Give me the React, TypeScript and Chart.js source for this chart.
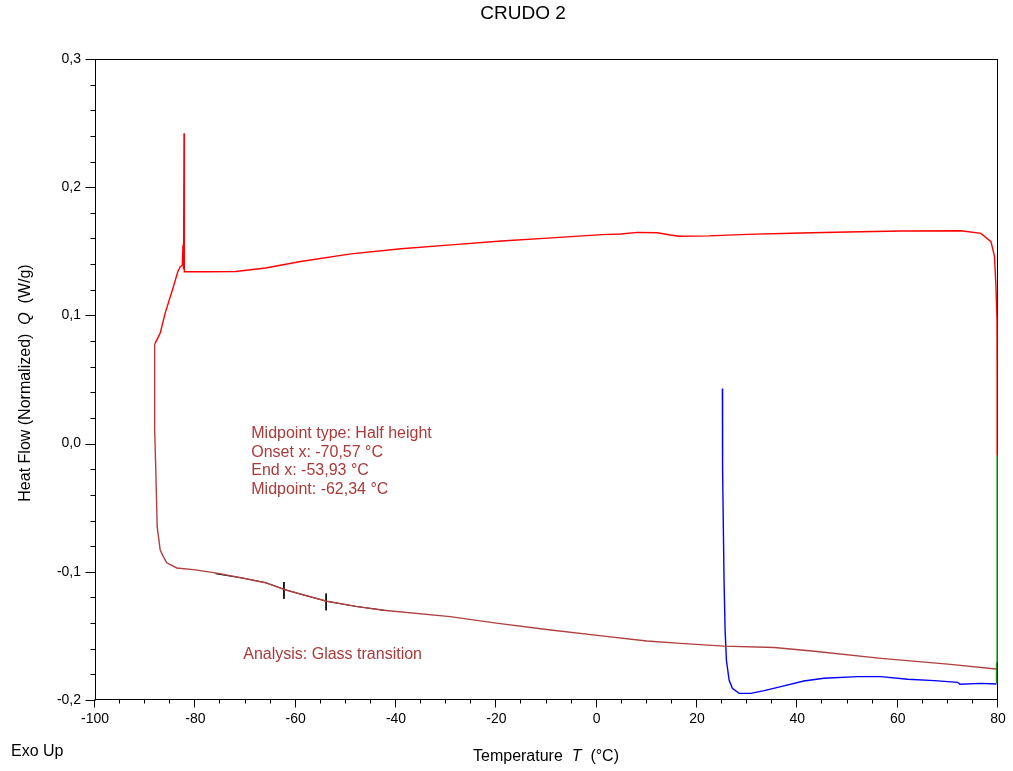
import React, { useEffect, useRef } from "react";
import { Chart, registerables } from "chart.js";

Chart.register(...registerables);

// ---- Chart text ----
const chartTitle = "CRUDO 2";
const exoLabel = "Exo Up";
const analysisLabel = "Analysis: Glass transition";
const resultLines = [
  "Midpoint type: Half height",
  "Onset x: -70,57 °C",
  "End x: -53,93 °C",
  "Midpoint: -62,34 °C",
];

// ---- Axis ranges / ticks ----
const xMin = -100;
const xMax = 80;
const xMajorStep = 20;
const xMinorStep = 5;
const yMin = -0.2;
const yMax = 0.3;
const yMajorStep = 0.1;
const yMinorStep = 0.02;

// ---- Heating segment (red), °C / W/g ----
const heatingT = [
  -88.05, -87.6, -87.0, -86.0, -84.4, -83.5, -83.0, -82.6, -82.45, -82.35, -82.25, -82.2,
  -78.0, -72.0, -66.0, -59.0, -49.0, -39.0, -29.0, -19.0, -9.0, 1.0, 4.8, 8.1, 12.1, 14.7,
  16.4, 22.4, 30.0, 40.7, 50.0, 60.6, 72.6, 76.6, 78.6, 79.3, 79.6, 79.8, 79.82, 79.82,
];
const heatingQ = [
  0.078, 0.0815, 0.0863, 0.102, 0.122, 0.134, 0.138, 0.139, 0.155, 0.136, 0.242, 0.134,
  0.134, 0.1342, 0.137, 0.142, 0.148, 0.152, 0.155, 0.158, 0.1605, 0.163, 0.1635, 0.1648,
  0.1645, 0.1627, 0.1617, 0.162, 0.1632, 0.1643, 0.165, 0.1658, 0.166, 0.164, 0.1575,
  0.146, 0.122, 0.096, 0.05, -0.009,
];

// ---- Isothermal segment at 80 °C (green) ----
const isoT = [79.82, 79.82, 79.7, 79.7];
const isoQ = [-0.009, -0.17, -0.172, -0.187];

// ---- Cooling segment (dark red) ----
const coolingT = [
  79.6, 70.0, 56.7, 43.4, 35.4, 25.4, 16.7, 10.0, 1.0, -10.0, -20.0, -29.2, -42.5, -48.0,
  -53.8, -58.0, -62.1, -66.0, -70.4, -75.7, -80.0, -83.7, -85.7, -86.4, -87.0, -87.6,
  -87.9, -88.1, -88.1,
];
const coolingQ = [
  -0.1758, -0.172, -0.1675, -0.162, -0.159, -0.158, -0.1558, -0.154, -0.15, -0.145, -0.14,
  -0.135, -0.13, -0.127, -0.123, -0.1185, -0.114, -0.1085, -0.105, -0.101, -0.0985,
  -0.097, -0.093, -0.088, -0.083, -0.065, -0.018, 0.01, 0.078,
];

// ---- Second heating segment (blue) ----
const reheatT = [
  25.06, 25.1, 25.4, 25.6, 25.86, 26.4, 27.05, 28.4, 30.7, 33.4, 36.7, 41.3, 45.3, 52.0,
  56.6, 62.0, 67.3, 71.96, 72.4, 76.6, 79.7,
];
const reheatQ = [
  0.043, -0.02, -0.109, -0.145, -0.1688, -0.1844, -0.1909, -0.1948, -0.1948, -0.1927,
  -0.1896, -0.1852, -0.183, -0.1818, -0.1818, -0.1838, -0.1849, -0.1862, -0.1877, -0.187,
  -0.1875,
];

// ---- Glass transition fit (black) ----
const fitT = [-76.0, -70.4, -66.0, -62.1, -58.0, -53.8, -48.0, -42.0];
const fitQ = [-0.1015, -0.105, -0.1085, -0.114, -0.1185, -0.123, -0.127, -0.1302];

// ---- Midpoint / end markers ----
const markerT = [-62.34, -53.93];
const markerTop = [-0.108, -0.117];
const markerBottom = [-0.121, -0.13];

// ---- Colours ----
const heatingColor = "#ff0000";
const isoColor = "#1a9a1a";
const coolingColor = "#b0403f";
const reheatColor = "#0000ff";
const fitColor = "#000000";
const noteColor = "#a83a3a";

const FONT = "Arial, 'Liberation Sans', sans-serif";

const toPoints = (xs: number[], ys: number[]) => xs.map((x, i) => ({ x, y: ys[i] }));

const fmtY = (v: number) => (Math.abs(v) < 1e-9 ? "0,0" : v.toFixed(1).replace(".", ","));

const decorations = {
  id: "dscDecorations",
  beforeDatasetsDraw(chart: any) {
    const { ctx, chartArea: a } = chart;
    ctx.save();
    ctx.strokeStyle = "#000";
    ctx.lineWidth = 1;
    ctx.strokeRect(Math.round(a.left) + 0.5, Math.round(a.top) + 0.5, Math.round(a.right - a.left) - 1, Math.round(a.bottom - a.top) - 1);
    ctx.restore();
  },
  afterDraw(chart: any) {
    const { ctx, chartArea: a, scales } = chart;
    const xs = scales.x;
    const ys = scales.y;
    ctx.save();
    ctx.strokeStyle = "#000";
    ctx.lineWidth = 1;
    // x tick marks (major + minor), outward
    const xb = Math.round(a.bottom) - 0.5;
    for (let v = xMin; v <= xMax + 1e-9; v += xMinorStep) {
      const px = Math.round(xs.getPixelForValue(v)) - 0.5;
      const major = Math.abs(v % xMajorStep) < 1e-9;
      ctx.beginPath();
      ctx.moveTo(px, xb);
      ctx.lineTo(px, xb + (major ? 8 : 4));
      ctx.stroke();
    }
    // y tick marks (major + minor), outward
    const yl = Math.round(a.left) + 0.5;
    const nY = Math.round((yMax - yMin) / yMinorStep);
    for (let i = 0; i <= nY; i++) {
      const v = yMin + i * yMinorStep;
      const py = Math.round(ys.getPixelForValue(v)) + 0.5;
      const major = i % Math.round(yMajorStep / yMinorStep) === 0;
      ctx.beginPath();
      ctx.moveTo(yl, py);
      ctx.lineTo(yl - (major ? 10 : 5), py);
      ctx.stroke();
    }

    // title
    ctx.fillStyle = "#000";
    ctx.textBaseline = "middle";
    ctx.textAlign = "center";
    ctx.font = `19px ${FONT}`;
    ctx.fillText(chartTitle, 523, 14);

    // axis title with an italic quantity symbol
    const drawMixed = (parts: { t: string; italic: boolean }[], cx: number, cy: number, size: number) => {
      const widths = parts.map((p) => {
        ctx.font = `${p.italic ? "italic " : ""}${size}px ${FONT}`;
        return ctx.measureText(p.t).width;
      });
      const total = widths.reduce((s, w) => s + w, 0);
      let x = cx - total / 2;
      ctx.textAlign = "left";
      parts.forEach((p, i) => {
        ctx.font = `${p.italic ? "italic " : ""}${size}px ${FONT}`;
        ctx.fillText(p.t, x, cy);
        x += widths[i];
      });
    };
    drawMixed(
      [
        { t: "Temperature  ", italic: false },
        { t: "T", italic: true },
        { t: "  (°C)", italic: false },
      ],
      546,
      757,
      16
    );

    // y axis title, rotated
    ctx.save();
    ctx.translate(26, 383);
    ctx.rotate(-Math.PI / 2);
    drawMixed(
      [
        { t: "Heat Flow (Normalized)  ", italic: false },
        { t: "Q", italic: true },
        { t: "  (W/g)", italic: false },
      ],
      0,
      0,
      16
    );
    ctx.restore();

    // Exo Up
    ctx.textAlign = "left";
    ctx.font = `16px ${FONT}`;
    ctx.fillText(exoLabel, 11, 752);

    // analysis results
    ctx.fillStyle = noteColor;
    ctx.font = `16px ${FONT}`;
    const noteX = xs.getPixelForValue(-68.85);
    resultLines.forEach((line, i) => {
      ctx.fillText(line, noteX, 434 + i * 18.4);
    });
    ctx.fillText(analysisLabel, xs.getPixelForValue(-70.45), 655);
    ctx.restore();
  },
};

export default function App() {
  const canvasRef = useRef<HTMLCanvasElement | null>(null);

  useEffect(() => {
    const canvas = canvasRef.current;
    if (!canvas) return;
    const line = (data: any[], color: string, width: number) => ({
      data,
      borderColor: color,
      backgroundColor: color,
      borderWidth: width,
      pointRadius: 0,
      showLine: true,
      tension: 0,
      fill: false,
      clip: 2,
    });
    const datasets = [
      line(toPoints(coolingT, coolingQ), coolingColor, 1.4),
      line(toPoints(heatingT, heatingQ), heatingColor, 1.4),
      line(toPoints(isoT, isoQ), isoColor, 1.4),
      line(toPoints(reheatT, reheatQ), reheatColor, 1.4),
      line(toPoints(fitT, fitQ), fitColor, 1),
      ...markerT.map((t, i) =>
        line(
          [
            { x: t, y: markerTop[i] },
            { x: t, y: markerBottom[i] },
          ],
          fitColor,
          1
        )
      ),
    ];

    const chart = new Chart(canvas, {
      type: "scatter",
      data: { datasets },
      options: {
        animation: false,
        responsive: false,
        events: [],
        layout: { padding: { top: 59, right: 15, left: 0, bottom: 0 } },
        plugins: {
          legend: { display: false },
          title: { display: false },
          tooltip: { enabled: false },
        },
        scales: {
          x: {
            type: "linear",
            min: xMin,
            max: xMax,
            afterFit: (s: any) => {
              s.height = 71;
              s.paddingLeft = 0;
              s.paddingRight = 0;
            },
            grid: { display: false, drawTicks: false },
            border: { display: false },
            ticks: {
              stepSize: xMajorStep,
              padding: 11,
              color: "#000",
              font: { family: FONT, size: 14 },
              maxRotation: 0,
              autoSkip: false,
              callback: (v: any) => String(Math.round(Number(v))),
            },
          },
          y: {
            type: "linear",
            min: yMin,
            max: yMax,
            afterFit: (s: any) => {
              s.width = 95;
              s.paddingTop = 0;
              s.paddingBottom = 0;
            },
            grid: { display: false, drawTicks: false },
            border: { display: false },
            ticks: {
              stepSize: yMajorStep,
              padding: 14,
              color: "#000",
              font: { family: FONT, size: 14 },
              autoSkip: false,
              callback: (v: any) => fmtY(Number(v)),
            },
          },
        },
      },
      plugins: [decorations],
    });
    return () => chart.destroy();
  }, []);

  return (
    <div style={{ position: "fixed", left: 0, top: 0, width: 1013, height: 771, background: "#fff" }}>
      <canvas ref={canvasRef} width={1013} height={771} style={{ width: 1013, height: 771, display: "block" }} />
    </div>
  );
}
